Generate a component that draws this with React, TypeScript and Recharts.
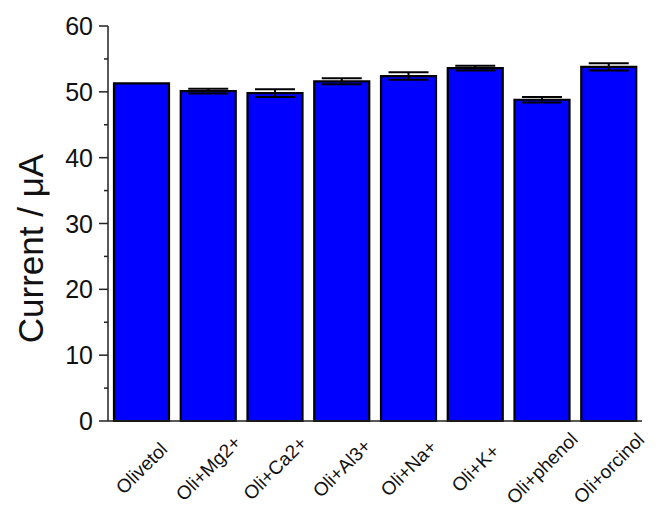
import React from 'react';
import { BarChart, Bar, XAxis, YAxis, ErrorBar } from 'recharts';

const categories = ['Olivetol', 'Oli+Mg2+', 'Oli+Ca2+', 'Oli+Al3+', 'Oli+Na+', 'Oli+K+', 'Oli+phenol', 'Oli+orcinol'];
const currents = [51.3, 50.1, 49.8, 51.6, 52.4, 53.6, 48.8, 53.8];
const errors = [0, 0.35, 0.6, 0.45, 0.58, 0.35, 0.43, 0.56];
const yTicks = [0, 5, 10, 15, 20, 25, 30, 35, 40, 45, 50, 55, 60];
const yMajorTicks = [0, 10, 20, 30, 40, 50, 60];

const data = categories.map((name, i) => ({ name, current: currents[i], err: errors[i] }));

const FONT = '"Liberation Sans", Arial, sans-serif';
const AXIS = '#222';

const YTick = (props: any) => {
  const { x, y, payload } = props;
  const major = yMajorTicks.includes(payload.value);
  return (
    <g>
      <line x1={x - (major ? 9 : 4)} x2={x} y1={y} y2={y} stroke={AXIS} strokeWidth={1.5} />
      {major && (
        <text x={x - 15} y={y} dy="0.36em" textAnchor="end" fontSize={25} fontFamily={FONT} fill="#111">
          {payload.value}
        </text>
      )}
    </g>
  );
};

const XTick = (props: any) => {
  const { x, y, payload } = props;
  const cx = x;
  const cy = y + 47;
  return (
    <text
      x={cx}
      y={cy}
      dy="0.36em"
      textAnchor="middle"
      fontSize={19}
      fontFamily={FONT}
      fill="#111"
      transform={`rotate(-45, ${cx}, ${cy})`}
    >
      {payload.value}
    </text>
  );
};

const YLabel = (props: any) => {
  const vb = props.viewBox || { x: 0, y: 26, width: 108, height: 395 };
  const lx = vb.x + 43;
  const ly = vb.y + vb.height / 2 + 25;
  return (
    <text
      x={lx}
      y={ly}
      textAnchor="middle"
      fontSize={35}
      fontFamily={FONT}
      fill="#111"
      transform={`rotate(-90, ${lx}, ${ly})`}
    >
      Current / μA
    </text>
  );
};

export default function App() {
  return (
    <div style={{ position: 'fixed', left: 0, top: 0, width: 657, height: 520, background: '#fff' }}>
      <BarChart width={657} height={520} data={data} margin={{ top: 26, right: 15, left: 0, bottom: 0 }}>
        <XAxis
          dataKey="name"
          height={99}
          interval={0}
          tickLine={false}
          tickSize={0}
          tickMargin={0}
          axisLine={{ stroke: AXIS, strokeWidth: 1.5 }}
          tick={<XTick />}
        />
        <XAxis
          xAxisId="top"
          dataKey="name"
          orientation="top"
          height={0}
          tick={false}
          tickLine={false}
          axisLine={{ stroke: AXIS, strokeWidth: 1.5 }}
        />
        <YAxis
          width={108}
          domain={[0, 60]}
          ticks={yTicks}
          interval={0}
          tickSize={0}
          tickMargin={0}
          tickLine={false}
          axisLine={{ stroke: AXIS, strokeWidth: 1.5 }}
          tick={<YTick />}
          label={<YLabel />}
        />
        <YAxis
          yAxisId="right"
          orientation="right"
          width={0}
          domain={[0, 60]}
          tick={false}
          tickLine={false}
          axisLine={{ stroke: AXIS, strokeWidth: 1.5 }}
        />
        <Bar dataKey="current" fill="#0000FF" stroke="#000" strokeWidth={2.2} barSize={55} isAnimationActive={false}>
          <ErrorBar dataKey="err" width={20} stroke="#000" strokeWidth={2} direction="y" />
        </Bar>
      </BarChart>
    </div>
  );
}
